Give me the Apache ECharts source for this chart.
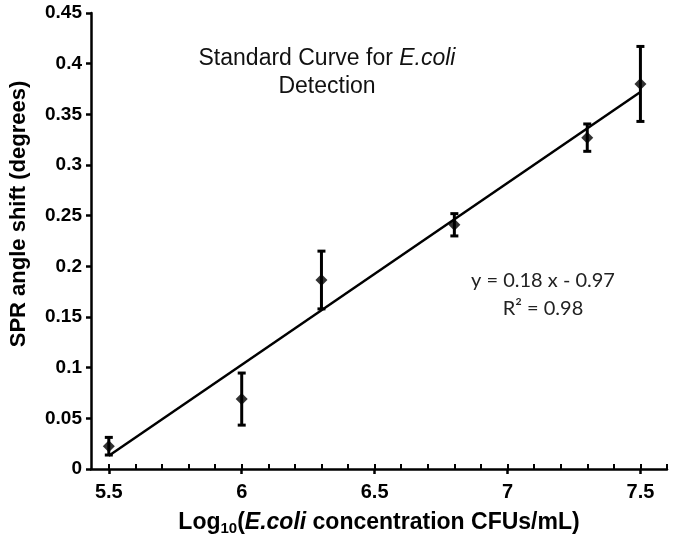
<!DOCTYPE html>
<html>
<head>
<meta charset="utf-8">
<script src="https://cdn.jsdelivr.net/npm/echarts@6/dist/echarts.min.js"></script>
<style>html,body{margin:0;padding:0;background:#fff}#c{width:675px;height:541px}</style>
</head>
<body>
<div id="c"></div>
<script>
// ---- data ----
const concentration = [5.5, 6.0, 6.3, 6.8, 7.3, 7.5];
const angleShift = [0.0225, 0.069, 0.1865, 0.241, 0.327, 0.380];
const errorSize = [0.0087, 0.0257, 0.0285, 0.011, 0.0135, 0.037];
const trendX = [5.5, 7.5];
const trendY = [0.013, 0.372];
const xTickLabels = [5.5, 6, 6.5, 7, 7.5];
const xMinorTicks = [5.5, 5.6, 5.7, 5.8, 5.9, 6.0, 6.1, 6.2, 6.3, 6.4, 6.5, 6.6, 6.7, 6.8, 6.9, 7.0, 7.1, 7.2, 7.3, 7.4, 7.5, 7.6];
const yTickLabels = [0, 0.05, 0.1, 0.15, 0.2, 0.25, 0.3, 0.35, 0.4, 0.45];
const equationText = ['y = 0.18 x - 0.97', 'R² = 0.98'];
const yTitle = 'SPR angle shift (degrees)';

const chart = echarts.init(document.getElementById('c'));
const errData = concentration.map((x, i) => [x, angleShift[i] - errorSize[i], angleShift[i] + errorSize[i]]);
const ptData = concentration.map((x, i) => [x, angleShift[i]]);
const trendData = trendX.map((x, i) => [x, trendY[i]]);

const FF = 'Liberation Sans, Arial, sans-serif';
const axLine = { show: true, onZero: false, lineStyle: { color: '#000', width: 2.5 } };

chart.setOption({
  animation: false,
  backgroundColor: '#fff',
  title: {
    text: '{a|Standard Curve for }{b|E.coli}\n{a|Detection}',
    left: 322, top: 40, textAlign: 'center',
    textStyle: {
      fontWeight: 'normal',
      rich: {
        a: { fontFamily: FF, fontWeight: 'normal', fontSize: 23, color: '#111', lineHeight: 28 },
        b: { fontFamily: FF, fontWeight: 'normal', fontSize: 23, fontStyle: 'italic', color: '#111', lineHeight: 28 }
      }
    }
  },
  grid: { left: 91, right: 8, top: 13, bottom: 69 },
  xAxis: [{
    type: 'value', min: 5.433, max: 7.6,
    axisLine: axLine,
    splitLine: { show: false },
    axisTick: { show: true, inside: true, length: 5, customValues: xMinorTicks, lineStyle: { color: '#000', width: 2 } },
    axisLabel: { customValues: xTickLabels, margin: 13, fontFamily: FF, fontWeight: 'bold', fontSize: 20, color: '#000' },
    name: '{n|Log}{s|10}{n|(}{i|E.coli}{n| concentration CFUs/mL)}',
    nameLocation: 'middle', nameGap: 41,
    nameTextStyle: {
      rich: {
        n: { fontFamily: FF, fontWeight: 'bold', fontSize: 23, color: '#000', lineHeight: 26 },
        i: { fontFamily: FF, fontWeight: 'bold', fontStyle: 'italic', fontSize: 23, color: '#000', lineHeight: 26 },
        s: { fontFamily: FF, fontWeight: 'bold', fontSize: 15, color: '#000', lineHeight: 26, verticalAlign: 'bottom', padding: [10, 0, 0, 0] }
      }
    }
  }, {
    type: 'value', min: 5.433, max: 7.6, position: 'bottom',
    axisLine: { show: false }, splitLine: { show: false },
    axisTick: { show: true, inside: false, length: 5, customValues: xTickLabels, lineStyle: { color: '#000', width: 2.5 } },
    axisLabel: { show: false }
  }],
  yAxis: {
    type: 'value', min: 0, max: 0.45,
    axisLine: axLine,
    splitLine: { show: false },
    axisTick: { show: true, inside: false, length: 5, customValues: yTickLabels, lineStyle: { color: '#000', width: 2.5 } },
    axisLabel: { customValues: yTickLabels, margin: 9, fontFamily: FF, fontWeight: 'bold', fontSize: 19, color: '#000' }
  },
  series: [{
    type: 'line', data: trendData, symbol: 'none', xAxisIndex: 0,
    lineStyle: { color: '#000', width: 2.5 }, z: 2
  }, {
    type: 'custom', data: errData, xAxisIndex: 0, z: 3,
    renderItem: function (params, api) {
      const x = api.value(0);
      const lo = api.coord([x, api.value(1)]);
      const hi = api.coord([x, api.value(2)]);
      const w = 4;
      const st = { stroke: '#000', lineWidth: 3 };
      return {
        type: 'group', children: [
          { type: 'line', shape: { x1: lo[0], y1: lo[1], x2: hi[0], y2: hi[1] }, style: st },
          { type: 'line', shape: { x1: lo[0] - w, y1: lo[1], x2: lo[0] + w, y2: lo[1] }, style: st },
          { type: 'line', shape: { x1: hi[0] - w, y1: hi[1], x2: hi[0] + w, y2: hi[1] }, style: st }
        ]
      };
    }
  }, {
    type: 'scatter', data: ptData, xAxisIndex: 0, symbol: 'diamond', symbolSize: [12, 12],
    itemStyle: { color: '#000' }, z: 4
  }],
  graphic: [{
    type: 'text', x: 543, y: 295,
    style: { text: equationText.join('\n'), fontFamily: 'Lato, Open Sans, sans-serif', fontSize: 20, lineHeight: 28, fill: '#222', textAlign: 'center', textVerticalAlign: 'middle' }
  }, {
    type: 'text', x: 19, y: 214, rotation: Math.PI / 2,
    style: { text: yTitle, fontFamily: FF, fontWeight: 'bold', fontSize: 22, fill: '#000', textAlign: 'center', textVerticalAlign: 'middle' }
  }]
});
</script>
</body>
</html>
